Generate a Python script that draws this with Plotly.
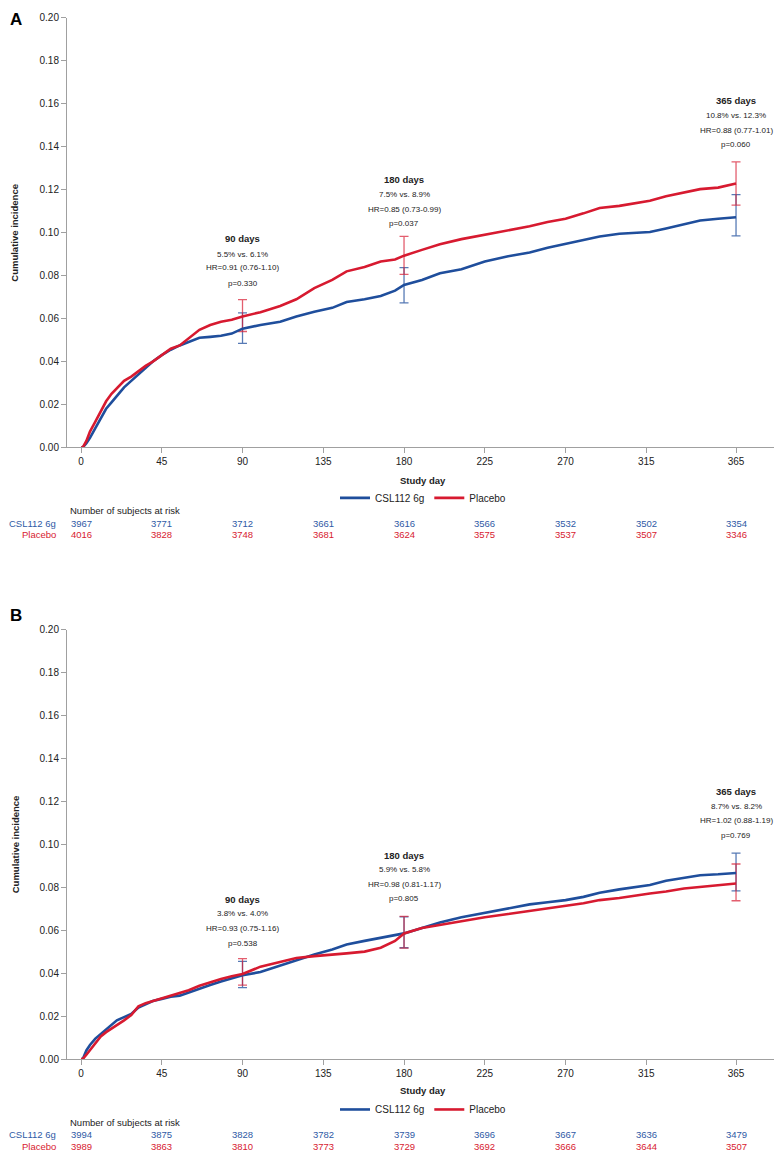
import plotly.graph_objects as go

# ---------------- DATA ----------------
days = [0, 1, 3, 5, 8, 11, 14, 17, 20, 24, 28, 32, 36, 40, 45, 50, 55, 60, 66, 72, 78, 84, 90,
        100, 111, 120, 130, 140, 148, 158, 167, 175, 180, 190, 200, 212, 225, 238, 250, 260, 270,
        280, 289, 300, 317, 326, 336, 345, 355, 365]

a_csl = [0, 0, 0.002, 0.0045, 0.009, 0.0135, 0.018, 0.021, 0.024, 0.028, 0.031, 0.034, 0.037, 0.040,
         0.043, 0.0455, 0.0475, 0.049, 0.0511, 0.0515, 0.052, 0.053, 0.0553,
         0.057, 0.0585, 0.061, 0.0632, 0.065, 0.0677, 0.069, 0.0705, 0.073, 0.0757, 0.078, 0.0811,
         0.083, 0.0866, 0.089, 0.0908, 0.093, 0.0949, 0.0965, 0.0982, 0.0995, 0.1003, 0.102,
         0.1041, 0.1057, 0.1065, 0.1072]
a_pla = [0, 0, 0.003, 0.0074, 0.012, 0.017, 0.0215, 0.025, 0.0275, 0.031, 0.033, 0.0355, 0.038, 0.040,
         0.043, 0.046, 0.0475, 0.051, 0.0548, 0.057, 0.0585, 0.0595, 0.061,
         0.063, 0.0659, 0.069, 0.0742, 0.078, 0.082, 0.084, 0.0866, 0.0875, 0.0893, 0.092, 0.0946,
         0.097, 0.099, 0.101, 0.103, 0.105, 0.1065, 0.109, 0.1115, 0.1125, 0.1149, 0.117,
         0.1189, 0.1203, 0.121, 0.1229]

b_csl = [0, 0, 0.004, 0.0065, 0.0095, 0.0117, 0.014, 0.016, 0.018, 0.0195, 0.021, 0.024, 0.0255, 0.027,
         0.028, 0.029, 0.0295, 0.031, 0.0329, 0.0345, 0.0361, 0.0375, 0.039,
         0.0405, 0.0435, 0.046, 0.0487, 0.051, 0.0533, 0.055, 0.0564, 0.0575, 0.0585, 0.061, 0.0636,
         0.066, 0.068, 0.070, 0.072, 0.073, 0.074, 0.0755, 0.0774, 0.079, 0.081, 0.083,
         0.0845, 0.0856, 0.086, 0.0866]
b_pla = [0, 0, 0.002, 0.0041, 0.0075, 0.0105, 0.0125, 0.0142, 0.0155, 0.018, 0.0205, 0.0245, 0.026, 0.027,
         0.028, 0.0295, 0.0304, 0.032, 0.0341, 0.0358, 0.0373, 0.0385, 0.0396,
         0.043, 0.0452, 0.047, 0.0479, 0.0485, 0.0492, 0.050, 0.0518, 0.055, 0.0585, 0.061, 0.0625,
         0.064, 0.066, 0.0675, 0.069, 0.070, 0.0714, 0.0725, 0.074, 0.075, 0.0771, 0.078,
         0.0794, 0.0802, 0.081, 0.0817]

ci_days = [90, 180, 365]
a_csl_est = [0.0553, 0.0757, 0.1072]
a_csl_lo = [0.0485, 0.0673, 0.0985]
a_csl_hi = [0.0627, 0.0837, 0.1177]
a_pla_est = [0.0610, 0.0893, 0.1229]
a_pla_lo = [0.0540, 0.0806, 0.1128]
a_pla_hi = [0.0688, 0.0983, 0.1330]

b_csl_est = [0.0390, 0.0585, 0.0866]
b_csl_lo = [0.0332, 0.0518, 0.0783]
b_csl_hi = [0.0455, 0.0662, 0.0959]
b_pla_est = [0.0396, 0.0585, 0.0817]
b_pla_lo = [0.0344, 0.0516, 0.0737]
b_pla_hi = [0.0467, 0.0664, 0.0908]

a_stats = [["90 days", "5.5% vs. 6.1%", "HR=0.91 (0.76-1.10)", "p=0.330"],
           ["180 days", "7.5% vs. 8.9%", "HR=0.85 (0.73-0.99)", "p=0.037"],
           ["365 days", "10.8% vs. 12.3%", "HR=0.88 (0.77-1.01)", "p=0.060"]]
b_stats = [["90 days", "3.8% vs. 4.0%", "HR=0.93 (0.75-1.16)", "p=0.538"],
           ["180 days", "5.9% vs. 5.8%", "HR=0.98 (0.81-1.17)", "p=0.805"],
           ["365 days", "8.7% vs. 8.2%", "HR=1.02 (0.88-1.19)", "p=0.769"]]

risk_days = [0, 45, 90, 135, 180, 225, 270, 315, 365]
a_risk_csl = [3967, 3771, 3712, 3661, 3616, 3566, 3532, 3502, 3354]
a_risk_pla = [4016, 3828, 3748, 3681, 3624, 3575, 3537, 3507, 3346]
b_risk_csl = [3994, 3875, 3828, 3782, 3739, 3696, 3667, 3636, 3479]
b_risk_pla = [3989, 3863, 3810, 3773, 3729, 3692, 3666, 3644, 3507]

y_ticks = [0, 0.02, 0.04, 0.06, 0.08, 0.10, 0.12, 0.14, 0.16, 0.18, 0.20]
series_names = ["CSL112 6g", "Placebo"]

# ---------------- STYLE ----------------
BLUE = "#1f4e9c"
RED = "#d71a30"
BLUE_T = "#2f5aa5"
RED_T = "#d71a30"
BLUE_E = "rgba(31,78,156,0.75)"
RED_E = "rgba(215,26,48,0.7)"
FONT = "Liberation Sans, Arial, sans-serif"
TXT = "#222222"
AXC = "#a0a0a0"
OFF = 8  # page body margin offset
W = 782 - OFF
H = 1160 - OFF


def py(px):
    return 1 - (px - OFF) / H


def px_x(px):
    return (px - OFF) / W


fig = go.Figure()

panels = [
    dict(xa="x", ya="y", csl=a_csl, pla=a_pla,
         ce=a_csl_est, cl=a_csl_lo, ch=a_csl_hi, pe=a_pla_est, pl=a_pla_lo, ph=a_pla_hi,
         legend="legend"),
    dict(xa="x2", ya="y2", csl=b_csl, pla=b_pla,
         ce=b_csl_est, cl=b_csl_lo, ch=b_csl_hi, pe=b_pla_est, pl=b_pla_lo, ph=b_pla_hi,
         legend="legend2"),
]

for p in panels:
    for est, lo, hi, col in [(p["ce"], p["cl"], p["ch"], BLUE_E), (p["pe"], p["pl"], p["ph"], RED_E)]:
        fig.add_trace(go.Scatter(
            x=ci_days, y=est, xaxis=p["xa"], yaxis=p["ya"], mode="markers",
            marker=dict(size=1, color="rgba(0,0,0,0)"), showlegend=False, hoverinfo="skip",
            error_y=dict(type="data", symmetric=False,
                         array=[h - e for h, e in zip(hi, est)],
                         arrayminus=[e - l for e, l in zip(est, lo)],
                         color=col, thickness=1.3, width=4.5)))
    fig.add_trace(go.Scatter(x=days, y=p["csl"], xaxis=p["xa"], yaxis=p["ya"], mode="lines",
                             line=dict(color=BLUE, width=2.6, shape="linear"), name=series_names[0],
                             legend=p["legend"]))
    fig.add_trace(go.Scatter(x=days, y=p["pla"], xaxis=p["xa"], yaxis=p["ya"], mode="lines",
                             line=dict(color=RED, width=2.6, shape="linear"), name=series_names[1],
                             legend=p["legend"]))

x_dom = [px_x(67), min(1.0, px_x(780))]
x_range = [-7.8, 389.5]
ax_common = dict(showgrid=False, zeroline=False, showline=True, linecolor=AXC, linewidth=1,
                 ticks="outside", ticklen=5, tickcolor=AXC, tickwidth=1,
                 tickfont=dict(family=FONT, size=10, color=TXT))

fig.update_layout(
    width=W, height=H, margin=dict(l=0, r=0, t=0, b=0),
    paper_bgcolor="white", plot_bgcolor="white",
    font=dict(family=FONT, color=TXT),
    xaxis=dict(domain=x_dom, range=x_range, tickvals=risk_days, anchor="y", **ax_common),
    yaxis=dict(domain=[py(446), py(12)], range=[0, 0.2], tickvals=y_ticks,
               tickformat=".2f", anchor="x", **ax_common),
    xaxis2=dict(domain=x_dom, range=x_range, tickvals=risk_days, anchor="y2", **ax_common),
    yaxis2=dict(domain=[py(1064), py(630)], range=[0, 0.2], tickvals=y_ticks,
                tickformat=".2f", anchor="x2", **ax_common),
    legend=dict(orientation="h", x=px_x(423), xanchor="center", y=py(497), yanchor="middle",
                font=dict(family=FONT, size=10, color=TXT), bgcolor="rgba(0,0,0,0)",
                itemwidth=30, tracegroupgap=0),
    legend2=dict(orientation="h", x=px_x(423), xanchor="center", y=py(1115), yanchor="middle",
                 font=dict(family=FONT, size=10, color=TXT), bgcolor="rgba(0,0,0,0)",
                 itemwidth=30, tracegroupgap=0),
)

ann = []
ann.append(dict(text="<b>A</b>", x=0, y=py(14), xref="paper", yref="paper",
                xanchor="left", yanchor="middle", showarrow=False,
                font=dict(family=FONT, size=17, color="#000")))
ann.append(dict(text="<b>B</b>", x=0, y=py(616), xref="paper", yref="paper",
                xanchor="left", yanchor="middle", showarrow=False,
                font=dict(family=FONT, size=17, color="#000")))

for yc, yt in [(229, 479), (847, 1096)]:
    ann.append(dict(text="<b>Cumulative incidence</b>", x=px_x(15), y=py(yc), xref="paper",
                    yref="paper", textangle=-90, showarrow=False, xanchor="center",
                    yanchor="middle", font=dict(family=FONT, size=9.5, color=TXT)))
    ann.append(dict(text="<b>Study day</b>", x=px_x(423), y=py(yt), xref="paper", yref="paper",
                    showarrow=False, xanchor="center", yanchor="middle",
                    font=dict(family=FONT, size=9.5, color=TXT)))

a_stat_y = [[0.0972, 0.0900, 0.0839, 0.0765],
            [0.1246, 0.1177, 0.1110, 0.1045],
            [0.1614, 0.1544, 0.1475, 0.1410]]
b_stat_y = [[0.0745, 0.0676, 0.0608, 0.0539],
            [0.0949, 0.0882, 0.0814, 0.0748],
            [0.1246, 0.1178, 0.1112, 0.1043]]
for stats, ys, xr, yr in [(a_stats, a_stat_y, "x", "y"), (b_stats, b_stat_y, "x2", "y2")]:
    for d, lines, yl in zip(ci_days, stats, ys):
        for i, (t, yy) in enumerate(zip(lines, yl)):
            ann.append(dict(text=f"<b>{t}</b>" if i == 0 else t, x=d, y=yy, xref=xr, yref=yr,
                            showarrow=False, xanchor="center", yanchor="middle",
                            font=dict(family=FONT, size=9.5 if i == 0 else 8, color=TXT)))

for xr, ynum, ycsl, ypla, rc, rp in [("x", 510, 523, 534, a_risk_csl, a_risk_pla),
                                     ("x2", 1128, 1140, 1152, b_risk_csl, b_risk_pla)]:
    ann.append(dict(text="Number of subjects at risk", x=px_x(68), y=py(ynum), xref="paper",
                    yref="paper", xanchor="left", yanchor="middle", showarrow=False,
                    font=dict(family=FONT, size=9.5, color=TXT)))
    ann.append(dict(text=series_names[0], x=px_x(58), y=py(ycsl), xref="paper", yref="paper",
                    xanchor="right", yanchor="middle", showarrow=False,
                    font=dict(family=FONT, size=9.5, color=BLUE_T)))
    ann.append(dict(text=series_names[1], x=px_x(58), y=py(ypla), xref="paper", yref="paper",
                    xanchor="right", yanchor="middle", showarrow=False,
                    font=dict(family=FONT, size=9.5, color=RED_T)))
    for d, vc, vp in zip(risk_days, rc, rp):
        ann.append(dict(text=str(vc), x=d, y=py(ycsl), xref=xr, yref="paper", xanchor="center",
                        yanchor="middle", showarrow=False,
                        font=dict(family=FONT, size=9.5, color=BLUE_T)))
        ann.append(dict(text=str(vp), x=d, y=py(ypla), xref=xr, yref="paper", xanchor="center",
                        yanchor="middle", showarrow=False,
                        font=dict(family=FONT, size=9.5, color=RED_T)))

fig.update_layout(annotations=ann)
fig.write_html("out.html")
